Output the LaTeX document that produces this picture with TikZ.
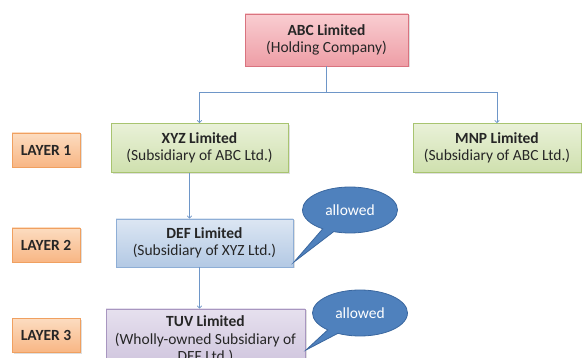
\documentclass[tikz,border=0pt]{standalone}
\usepackage{fontspec}
\setmainfont{Carlito}
\usetikzlibrary{arrows.meta,shapes.callouts,shadows}
\definecolor{redB}{HTML}{D9737F}
\definecolor{redT}{HTML}{F9CDD1}
\definecolor{redF}{HTML}{EE9EA6}
\definecolor{grnB}{HTML}{A8C470}
\definecolor{grnT}{HTML}{E9F1D8}
\definecolor{grnF}{HTML}{CFE0AE}
\definecolor{bluB}{HTML}{8EAED6}
\definecolor{bluT}{HTML}{DCE6F3}
\definecolor{bluF}{HTML}{B3C9E4}
\definecolor{purB}{HTML}{A896C0}
\definecolor{purT}{HTML}{E6E0EE}
\definecolor{purF}{HTML}{CDC2DC}
\definecolor{orgB}{HTML}{F0A060}
\definecolor{orgT}{HTML}{FCDCC0}
\definecolor{orgF}{HTML}{F8B684}
\definecolor{callF}{HTML}{4F81BD}
\definecolor{callB}{HTML}{3A679F}
\definecolor{lineC}{HTML}{6E96C8}
\tikzset{
  entbox/.style={draw, line width=0.8pt, rectangle, align=center, font=\fontsize{15.5}{17.5}\selectfont, inner sep=1pt, text=black!85,
    drop shadow={shadow xshift=1.5pt, shadow yshift=-1.5pt, opacity=0.25}},
  redbox/.style={entbox, draw=redB, top color=redT, bottom color=redF},
  grnbox/.style={entbox, draw=grnB, top color=grnT, bottom color=grnF},
  blubox/.style={entbox, draw=bluB, top color=bluT, bottom color=bluF},
  purbox/.style={entbox, draw=purB, top color=purT, bottom color=purF},
  layerbox/.style={entbox, draw=orgB, top color=orgT, bottom color=orgF, font=\fontsize{15.5}{17}\selectfont\bfseries, minimum width=68pt, minimum height=34pt},
  callbox/.style={ellipse callout, draw=callB, line width=0.8pt, fill=callF, text=white, font=\fontsize{15.5}{17}\selectfont, minimum width=95pt, minimum height=46pt, inner sep=0pt},
  arr/.style={draw=lineC, line width=0.7pt, -{To[length=3pt,width=5pt]}}
}
\begin{document}
\begin{tikzpicture}[x=1pt,y=-1pt]
\useasboundingbox (0,0) rectangle (582,358);
\clip (0,0) rectangle (582,358);
\node[redbox, minimum width=163pt, minimum height=52pt] (abc) at (326.5,40) {\textbf{ABC Limited}\\(Holding Company)};
\node[grnbox, minimum width=177pt, minimum height=49pt] (xyz) at (199.5,148) {\textbf{XYZ Limited}\\(Subsidiary of ABC Ltd.)};
\node[grnbox, minimum width=168pt, minimum height=49pt] (mnp) at (497,148) {\textbf{MNP Limited}\\(Subsidiary of ABC Ltd.)};
\node[blubox, minimum width=177pt, minimum height=48pt] (def) at (204.5,243) {\textbf{DEF Limited}\\(Subsidiary of XYZ Ltd.)};
\node[purbox, minimum width=199pt, minimum height=62pt] (tuv) at (205.5,340) {\textbf{TUV Limited}\\(Wholly-owned Subsidiary of\\DEF Ltd.)};
\node[layerbox] (l1) at (46,150) {LAYER 1};
\node[layerbox] (l2) at (46,245) {LAYER 2};
\node[layerbox] (l3) at (46,335.5) {LAYER 3};
\coordinate (tip1) at (294,262);
\coordinate (tip2) at (306,350);
\node[callbox, callout absolute pointer=(tip1)] (c1) at (350,210) {allowed};
\node[callbox, callout absolute pointer=(tip2)] (c2) at (360,313) {allowed};
\draw[arr] (abc.south) -- ++(0,26) coordinate (j) -| (xyz.north);
\draw[arr] (j) -| (mnp.north);
\draw[arr] ([xshift=-10pt]xyz.south) -- ([xshift=-10pt]xyz.south |- def.north);
\draw[arr] ([xshift=-5pt]def.south) -- ([xshift=-5pt]def.south |- tuv.north);
\end{tikzpicture}
\end{document}
